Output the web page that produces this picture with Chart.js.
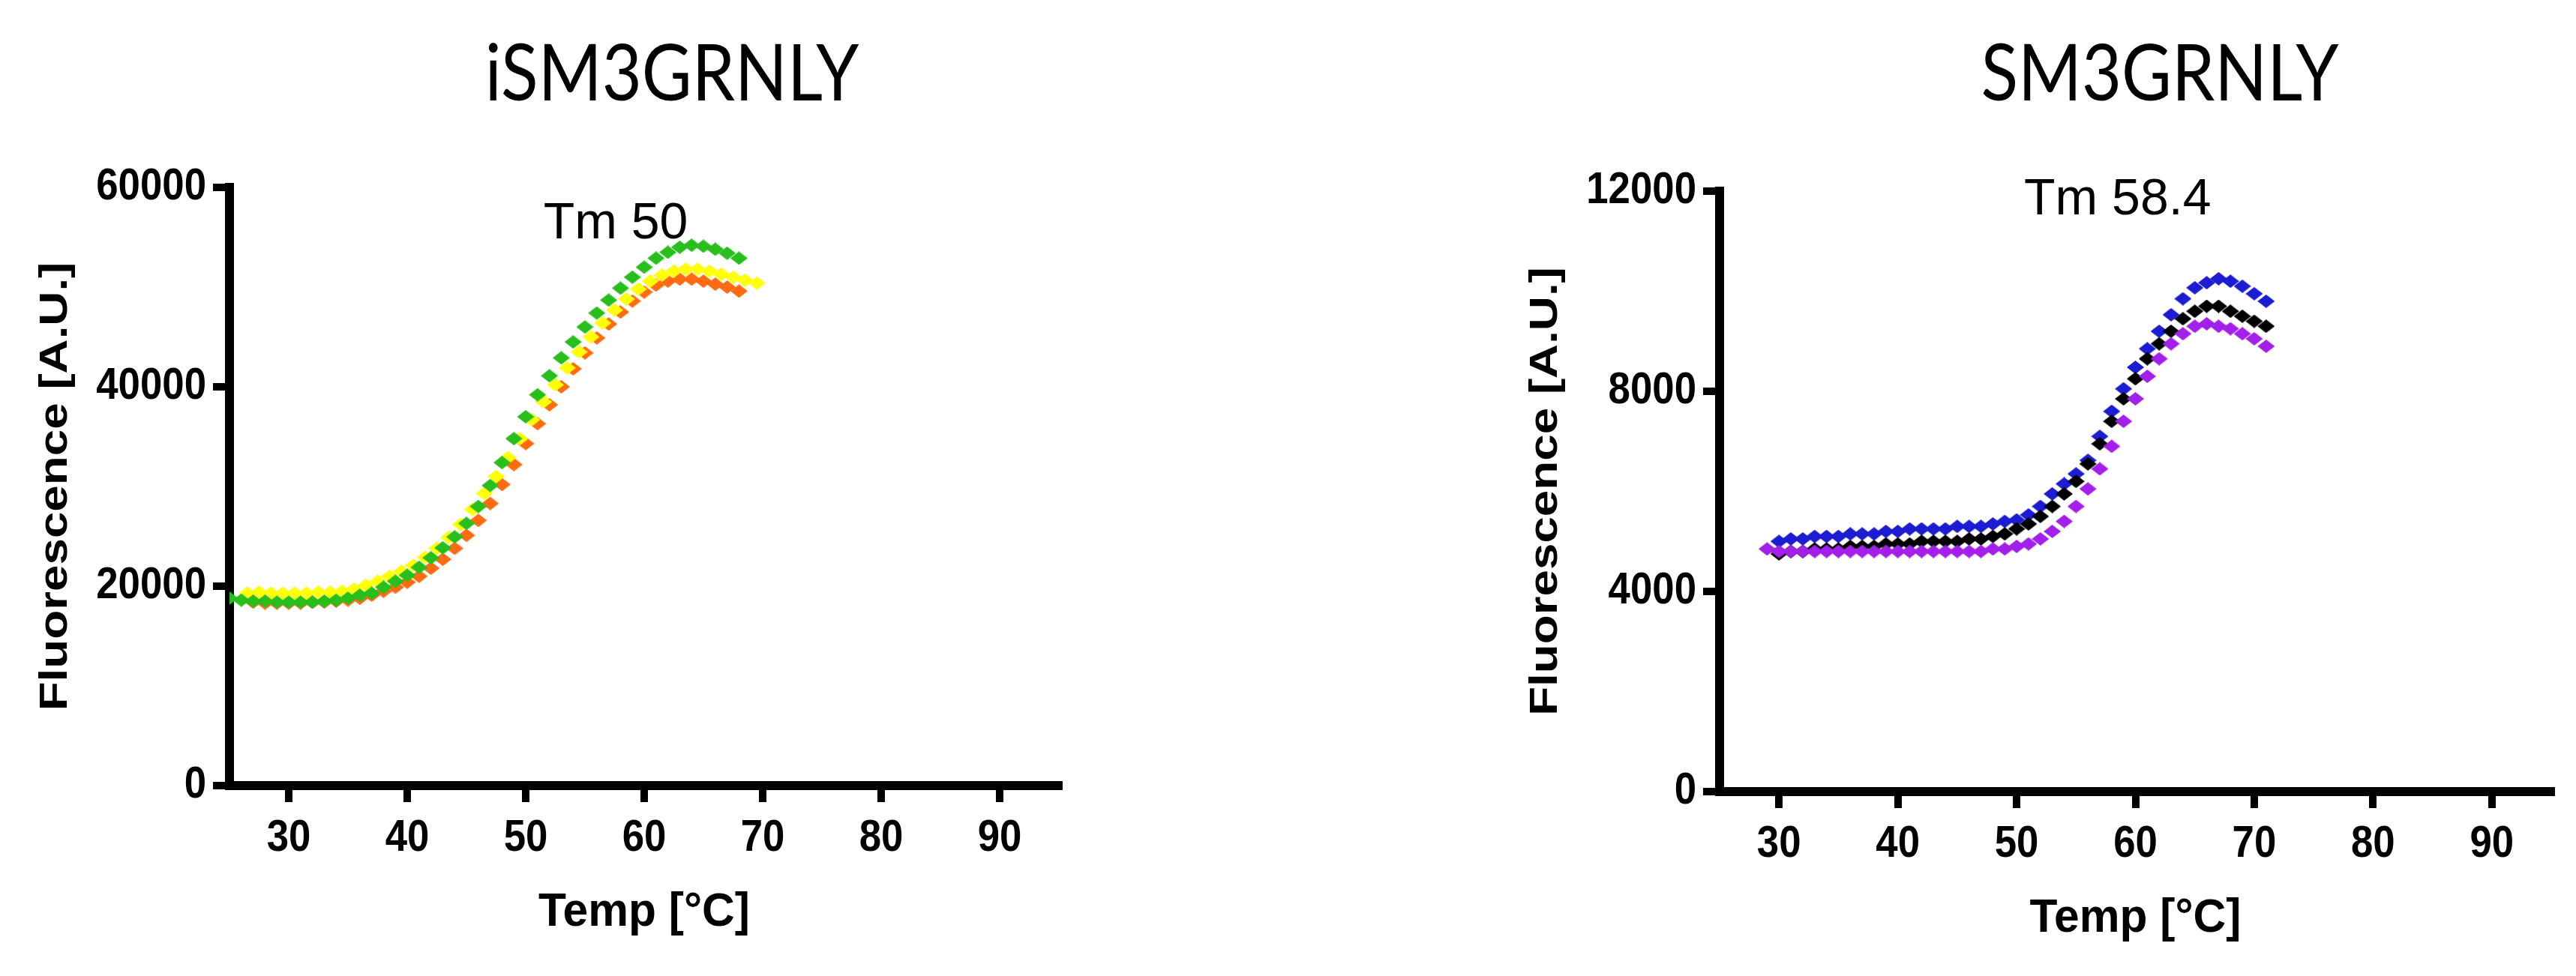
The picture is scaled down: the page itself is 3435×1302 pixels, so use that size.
<!DOCTYPE html>
<html>
<head>
<meta charset="utf-8">
<title>Thermal shift – iSM3GRNLY / SM3GRNLY</title>
<script src="https://cdn.jsdelivr.net/npm/chart.js@4/dist/chart.umd.min.js"></script>
<style>
  html, body { margin: 0; padding: 0; background: #fff; }
  #wrap { position: relative; width: 3435px; height: 1302px; overflow: hidden; }
  canvas { position: absolute; top: 0; }
  #left-chart { left: 0; }
  #right-chart { left: 1717px; }
</style>
</head>
<body>
<div id="wrap">
  <canvas id="left-chart" width="1717" height="1302"></canvas>
  <canvas id="right-chart" width="1718" height="1302"></canvas>
</div>
<script>
// ------------------------------------------------------------
// Data (temperature in °C, fluorescence in A.U.)
// ------------------------------------------------------------

var TEMP_TICKS = [30, 40, 50, 60, 70, 80, 90];
var LEFT_Y_TICKS = [0, 20000, 40000, 60000];
var RIGHT_Y_TICKS = [0, 4000, 8000, 12000];

// --- iSM3GRNLY ---
var GREEN_TEMP = [25, 26, 27, 28, 29, 30, 31, 32, 33, 34, 35, 36, 37, 38, 39, 40, 41, 42, 43, 44, 45, 46,
  47, 48, 49, 50, 51, 52, 53, 54, 55, 56, 57, 58, 59, 60, 61, 62, 63, 64, 65, 66, 67, 68];
var GREEN_F = [18800, 18600, 18500, 18500, 18400, 18400, 18400, 18400, 18500, 18600, 18800, 19100, 19300,
  19900, 20500, 21100, 21900, 22850, 23850, 24950, 26300, 28000, 30100, 32400, 34800, 37000, 39200, 41100,
  42900, 44500, 46000, 47400, 48700, 49900, 51000, 52000, 52900, 53500, 54000, 54200, 54100, 53800, 53400, 52900];

var YELLOW_TEMP = [26.5, 27.5, 28.5, 29.5, 30.5, 31.5, 32.5, 33.5, 34.5, 35.5, 36.5, 37.5, 38.5, 39.5, 40.5,
  41.5, 42.5, 43.5, 44.5, 45.5, 46.5, 47.5, 48.5, 49.5, 50.5, 51.5, 52.5, 53.5, 54.5, 55.5, 56.5, 57.5, 58.5,
  59.5, 60.5, 61.5, 62.5, 63.5, 64.5, 65.5, 66.5, 67.5, 68.5, 69.5];
var YELLOW_F = [19300, 19400, 19300, 19300, 19300, 19300, 19400, 19400, 19500, 19700, 20100, 20500, 21000,
  21500, 22100, 22900, 23800, 24900, 26200, 27700, 29300, 31000, 32900, 34800, 36700, 38500, 40200, 41900,
  43500, 45000, 46400, 47700, 48800, 49800, 50600, 51200, 51600, 51800, 51800, 51600, 51300, 51000, 50700, 50400];

var ORANGE_TEMP = [27, 28, 29, 30, 31, 32, 33, 34, 35, 36, 37, 38, 39, 40, 41, 42, 43, 44, 45, 46, 47, 48,
  49, 50, 51, 52, 53, 54, 55, 56, 57, 58, 59, 60, 61, 62, 63, 64, 65, 66, 67, 68];
var ORANGE_F = [18400, 18300, 18300, 18300, 18300, 18400, 18400, 18500, 18600, 18800, 19100, 19500, 19900,
  20400, 21000, 21800, 22700, 23800, 25100, 26600, 28300, 30200, 32200, 34300, 36300, 38200, 40000, 41800,
  43400, 44900, 46300, 47500, 48600, 49500, 50200, 50600, 50800, 50800, 50600, 50300, 50000, 49600];

// --- SM3GRNLY ---
var BLUE_TEMP = [30, 31, 32, 33, 34, 35, 36, 37, 38, 39, 40, 41, 42, 43, 44, 45, 46, 47, 48, 49, 50, 51,
  52, 53, 54, 55, 56, 57, 58, 59, 60, 61, 62, 63, 64, 65, 66, 67, 68, 69, 70, 71];
var BLUE_F = [5000, 5050, 5050, 5100, 5100, 5100, 5150, 5150, 5150, 5200, 5200, 5250, 5250, 5250, 5250,
  5300, 5300, 5300, 5350, 5400, 5430, 5530, 5700, 5950, 6150, 6350, 6620, 7100, 7600, 8050, 8480, 8850,
  9200, 9530, 9850, 10070, 10170, 10250, 10200, 10100, 9950, 9800];

var BLACK_TEMP = [30, 31, 32, 33, 34, 35, 36, 37, 38, 39, 40, 41, 42, 43, 44, 45, 46, 47, 48, 49, 50, 51,
  52, 53, 54, 55, 56, 57, 58, 59, 60, 61, 62, 63, 64, 65, 66, 67, 68, 69, 70, 71];
var BLACK_F = [4750, 4800, 4800, 4850, 4850, 4850, 4900, 4900, 4900, 4950, 4950, 4950, 5000, 5000, 5000,
  5000, 5050, 5050, 5100, 5150, 5250, 5350, 5500, 5700, 5950, 6200, 6550, 6950, 7400, 7850, 8250, 8650,
  8950, 9200, 9450, 9600, 9700, 9700, 9600, 9500, 9400, 9300];

var PURPLE_TEMP = [29, 30, 31, 32, 33, 34, 35, 36, 37, 38, 39, 40, 41, 42, 43, 44, 45, 46, 47, 48, 49, 50,
  51, 52, 53, 54, 55, 56, 57, 58, 59, 60, 61, 62, 63, 64, 65, 66, 67, 68, 69, 70, 71];
var PURPLE_F = [4850, 4800, 4800, 4800, 4800, 4800, 4800, 4800, 4800, 4800, 4800, 4800, 4800, 4800, 4800,
  4800, 4800, 4800, 4800, 4850, 4850, 4900, 4950, 5050, 5200, 5400, 5700, 6050, 6450, 6900, 7400, 7850,
  8300, 8650, 8950, 9150, 9300, 9350, 9300, 9250, 9150, 9050, 8900];

// ------------------------------------------------------------
// Styling
// ------------------------------------------------------------

var SANS = "'Liberation Sans', Arial, sans-serif";
var TICK_FONT = 'bold 60px ' + SANS;
var TICK_SQUEEZE = 0.88;          // the figure's digits are condensed
var X_TITLE_FONT = 'bold 63px ' + SANS;
var Y_TITLE_FONT = 'bold 51px ' + SANS;
var Y_TITLE_STRETCH = 1.25;       // y title is drawn long and thin in the figure
var PANEL_TITLE_FONT = "104px Lato, 'Open Sans', sans-serif";
var NOTE_FONT = '68px ' + SANS;

// markers are slightly flattened diamonds
function diamond(color) {
  var w = 23, h = 18;
  var c = document.createElement('canvas');
  c.width = w;
  c.height = h;
  var g = c.getContext('2d');
  g.fillStyle = color;
  g.beginPath();
  g.moveTo(w / 2, 0);
  g.lineTo(w, h / 2);
  g.lineTo(w / 2, h);
  g.lineTo(0, h / 2);
  g.closePath();
  g.fill();
  return c;
}

function toPoints(temps, values) {
  return temps.map(function (t, i) { return { x: t, y: values[i] }; });
}

function series(label, temps, values, color) {
  return {
    label: label,
    data: toPoints(temps, values),
    showLine: false,
    pointStyle: diamond(color),
    pointRadius: 11,
    pointBorderWidth: 0,
    pointBackgroundColor: color,
    pointBorderColor: color
  };
}

function drawScaled(ctx, text, x, y, sx, sy, align, baseline, rot) {
  ctx.save();
  ctx.translate(x, y);
  if (rot) ctx.rotate(rot);
  ctx.scale(sx, sy);
  ctx.textAlign = align;
  ctx.textBaseline = baseline;
  ctx.fillText(text, 0, 0);
  ctx.restore();
}

// Tick labels, axis titles, panel title and the "Tm" note
var panelText = {
  id: 'panelText',
  afterDraw: function (chart, args, opts) {
    var ctx = chart.ctx;
    var area = chart.chartArea;
    var xs = chart.scales.x;
    var ys = chart.scales.y;
    ctx.save();
    ctx.fillStyle = '#000';

    ctx.font = TICK_FONT;
    xs.ticks.forEach(function (t) {
      drawScaled(ctx, String(t.value), xs.getPixelForValue(t.value), area.bottom + 87,
        TICK_SQUEEZE, 1, 'center', 'alphabetic');
    });
    ys.ticks.forEach(function (t) {
      drawScaled(ctx, String(t.value), area.left - 31, ys.getPixelForValue(t.value) + 16,
        TICK_SQUEEZE, 1, 'right', 'alphabetic');
    });

    ctx.font = X_TITLE_FONT;
    drawScaled(ctx, 'Temp [°C]', (area.left + area.right) / 2, area.bottom + 187,
      0.96, 1, 'center', 'alphabetic');

    ctx.font = Y_TITLE_FONT;
    drawScaled(ctx, 'Fluorescence [A.U.]', area.left - 231, (area.top + area.bottom) / 2,
      Y_TITLE_STRETCH, 1, 'center', 'middle', -Math.PI / 2);

    ctx.font = PANEL_TITLE_FONT;
    drawScaled(ctx, opts.title, area.left + opts.titleDx, area.top - opts.titleDy,
      0.88, 1, 'center', 'alphabetic');

    ctx.font = NOTE_FONT;
    drawScaled(ctx, opts.note, xs.getPixelForValue(opts.noteAt[0]), ys.getPixelForValue(opts.noteAt[1]),
      1, 1, 'center', 'alphabetic');
    ctx.restore();
  }
};

function axisOptions(ticks, min, max, fitSize, isX) {
  return {
    type: 'linear',
    min: min,
    max: max,
    afterBuildTicks: function (scale) {
      scale.ticks = ticks.map(function (v) { return { value: v }; });
    },
    afterFit: function (scale) {
      if (isX) scale.height = fitSize; else scale.width = fitSize;
    },
    border: { display: true, color: '#000', width: 12 },
    grid: {
      display: true,
      drawOnChartArea: false,
      drawTicks: true,
      tickLength: 22,
      tickWidth: 10,
      tickColor: '#000',
      lineWidth: 10,
      color: '#000'
    },
    ticks: { display: false },
    title: { display: false }
  };
}

function makeChart(canvasId, datasets, yTicks, yMax, padding, yWidth, text) {
  return new Chart(document.getElementById(canvasId), {
    type: 'scatter',
    data: { datasets: datasets },
    options: {
      responsive: false,
      animation: false,
      devicePixelRatio: 1,
      layout: { padding: padding },
      plugins: {
        legend: { display: false },
        tooltip: { enabled: false },
        panelText: text
      },
      scales: {
        x: axisOptions(TEMP_TICKS, 25, 95, 200, true),
        y: axisOptions(yTicks, 0, yMax, yWidth, false)
      }
    },
    plugins: [panelText]
  });
}

makeChart('left-chart', [
  series('green', GREEN_TEMP, GREEN_F, '#28bf1c'),
  series('yellow', YELLOW_TEMP, YELLOW_F, '#ffff0a'),
  series('orange', ORANGE_TEMP, ORANGE_F, '#ff6a12')
], LEFT_Y_TICKS, 60000, { left: 0, top: 250, right: 305, bottom: 54 }, 306, {
  title: 'iSM3GRNLY',
  titleDx: 590,
  titleDy: 116,
  note: 'Tm 50',
  noteAt: [57.6, 54900]
});

makeChart('right-chart', [
  series('purple', PURPLE_TEMP, PURPLE_F, '#a320ea'),
  series('black', BLACK_TEMP, BLACK_F, '#000000'),
  series('blue', BLUE_TEMP, BLUE_F, '#1c1cd2')
], RIGHT_Y_TICKS, 12000, { left: 273, top: 255, right: 33, bottom: 46 }, 303, {
  title: 'SM3GRNLY',
  titleDx: 587,
  titleDy: 121,
  note: 'Tm 58.4',
  noteAt: [58.5, 11540]
});
</script>
</body>
</html>
